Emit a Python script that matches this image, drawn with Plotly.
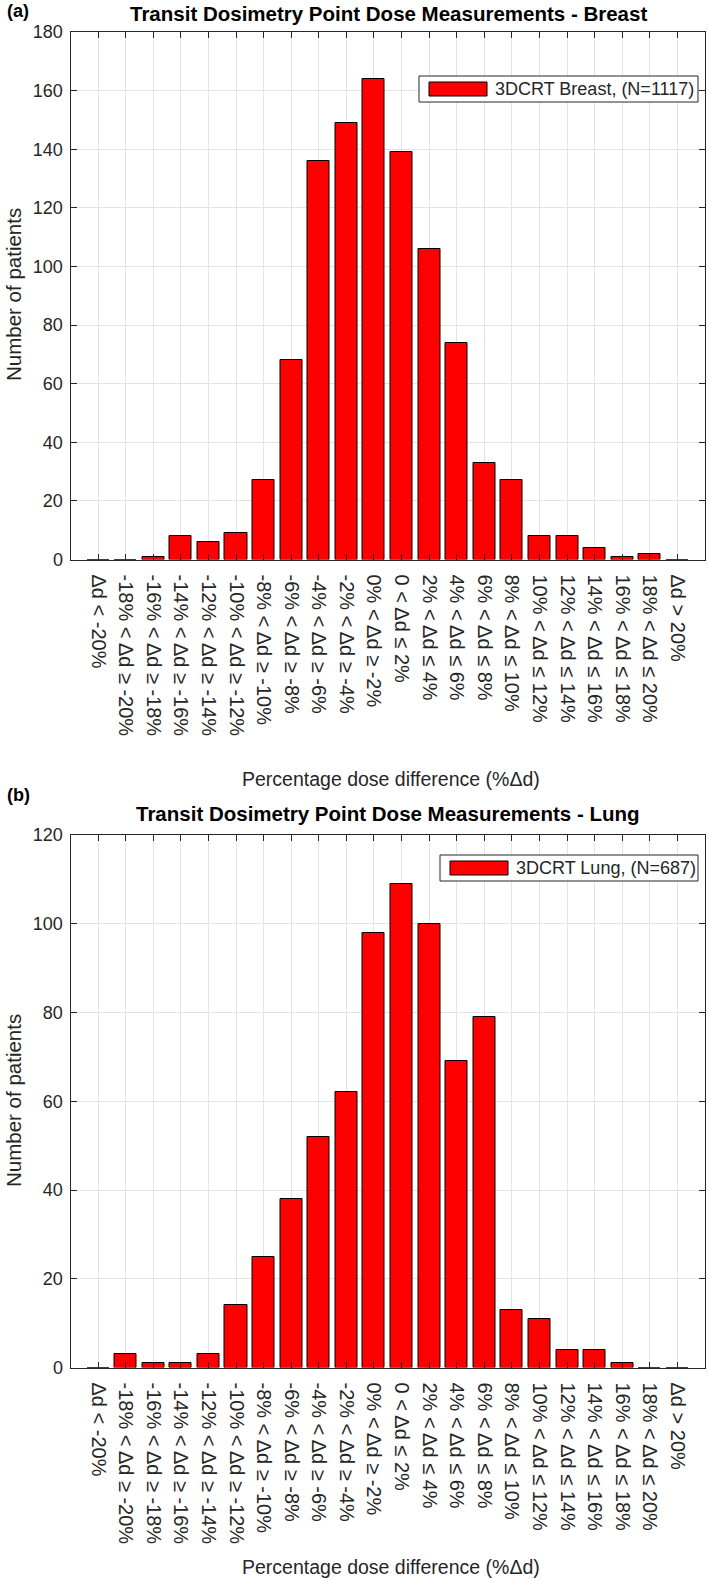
import plotly.graph_objects as go

W, H = 709, 1580

categories = [
    "Δd < -20%",
    "-18% < Δd ≥ -20%",
    "-16% < Δd ≥ -18%",
    "-14% < Δd ≥ -16%",
    "-12% < Δd ≥ -14%",
    "-10% < Δd ≥ -12%",
    "-8% < Δd ≥ -10%",
    "-6% < Δd ≥ -8%",
    "-4% < Δd ≥ -6%",
    "-2% < Δd ≥ -4%",
    "0% < Δd ≥ -2%",
    "0 < Δd ≤ 2%",
    "2% < Δd ≤ 4%",
    "4% < Δd ≤ 6%",
    "6% < Δd ≤ 8%",
    "8% < Δd ≤ 10%",
    "10% < Δd ≤ 12%",
    "12% < Δd ≤ 14%",
    "14% < Δd ≤ 16%",
    "16% < Δd ≤ 18%",
    "18% < Δd ≤ 20%",
    "Δd > 20%",
]
positions = list(range(1, len(categories) + 1))

breast_counts = [0, 0, 1, 8, 6, 9, 27, 68, 136, 149, 164, 139, 106, 74, 33, 27, 8, 8, 4, 1, 2, 0]
lung_counts = [0, 3, 1, 1, 3, 14, 25, 38, 52, 62, 98, 109, 100, 69, 79, 13, 11, 4, 4, 1, 0, 0]

breast_label = "3DCRT Breast, (N=1117)"
lung_label = "3DCRT Lung, (N=687)"
title_a = "Transit Dosimetry Point Dose Measurements - Breast"
title_b = "Transit Dosimetry Point Dose Measurements - Lung"
x_title = "Percentage dose difference (%Δd)"
y_title = "Number of patients"

breast_yticks = list(range(0, 181, 20))
lung_yticks = list(range(0, 121, 20))

FONT = "Liberation Sans, Arial, Helvetica, sans-serif"
AX = "#262626"
GRID = "#e3e3e3"


def px(x):
    return x / W


def py(y):
    return 1 - y / H


fig = go.Figure()
fig.add_trace(go.Bar(x=positions, y=breast_counts, width=0.8, name=breast_label,
                     marker=dict(color="#ff0000", line=dict(color="#000000", width=1)),
                     xaxis="x", yaxis="y", showlegend=False))
fig.add_trace(go.Bar(x=positions, y=lung_counts, width=0.8, name=lung_label,
                     marker=dict(color="#ff0000", line=dict(color="#000000", width=1)),
                     xaxis="x2", yaxis="y2", showlegend=False))

xdom = [px(70.5), px(705)]
top_dom = [py(559.5), py(32)]
bot_dom = [py(1367.5), py(835)]


def xaxis(anchor, domain):
    return dict(domain=domain, anchor=anchor, range=[0, 23], tickmode="array",
                tickvals=positions, ticktext=categories, tickangle=90,
                tickfont=dict(family=FONT, size=20, color=AX), ticklabelstandoff=10,
                showgrid=True, gridcolor=GRID, gridwidth=1,
                showline=True, linecolor=AX, linewidth=1, mirror="ticks",
                ticks="inside", ticklen=6, tickcolor=AX, zeroline=False,
                automargin=False, fixedrange=True)


def yaxis(anchor, domain, rng, ticks):
    return dict(domain=domain, anchor=anchor, range=rng, tickmode="array",
                tickvals=ticks, tickfont=dict(family=FONT, size=18, color=AX), ticklabelstandoff=3,
                showgrid=True, gridcolor=GRID, gridwidth=1,
                showline=True, linecolor=AX, linewidth=1, mirror="ticks",
                ticks="inside", ticklen=6, tickcolor=AX, zeroline=False,
                automargin=False, fixedrange=True)


ann = []
shapes = []


def text(x, y, t, size, bold=False, xanchor="center", angle=0):
    ann.append(dict(x=px(x), y=py(y), xref="paper", yref="paper", text=("<b>%s</b>" % t) if bold else t,
                    showarrow=False, xanchor=xanchor, yanchor="middle", textangle=angle,
                    font=dict(family=FONT, size=size, color="#000000" if bold else AX)))


# panel labels and titles
text(5, 11, "(a)", 18, bold=True, xanchor="left")
text(388, 13, title_a, 20.5, bold=True)
text(5, 795, "(b)", 18, bold=True, xanchor="left")
text(388, 813, title_b, 20.5, bold=True)
# axis titles
text(13, 295, y_title, 20.5, angle=-90)
text(13, 1101, y_title, 20.5, angle=-90)
text(391, 779, x_title, 19.5)
text(391, 1567, x_title, 19.5)


def legend(x0, y0, x1, y1, label):
    shapes.append(dict(type="rect", xref="paper", yref="paper", x0=px(x0), x1=px(x1), y0=py(y1), y1=py(y0),
                       line=dict(color=AX, width=1), fillcolor="white", layer="above"))
    cy = (y0 + y1) / 2
    shapes.append(dict(type="rect", xref="paper", yref="paper", x0=px(x0 + 10), x1=px(x0 + 68),
                       y0=py(cy + 7), y1=py(cy - 7),
                       line=dict(color="#000000", width=1), fillcolor="#ff0000", layer="above"))
    text(x0 + 74, cy, label, 18, xanchor="left")


legend(419, 76, 698, 102, breast_label)
legend(440, 855, 698, 881, lung_label)

fig.update_layout(
    width=W, height=H,
    margin=dict(l=0, r=0, t=0, b=0),
    paper_bgcolor="white", plot_bgcolor="white",
    xaxis=xaxis("y", xdom), yaxis=yaxis("x", top_dom, [0, 180], breast_yticks),
    xaxis2=xaxis("y2", xdom), yaxis2=yaxis("x2", bot_dom, [0, 120], lung_yticks),
    annotations=ann, shapes=shapes, bargap=0, showlegend=False,
    font=dict(family=FONT, color=AX),
)

# remove the default page margin so the 709x1580 figure sits at the page origin
fig.write_html("out.html", config={"displayModeBar": False},
               post_script="document.body.style.margin='0px';")
